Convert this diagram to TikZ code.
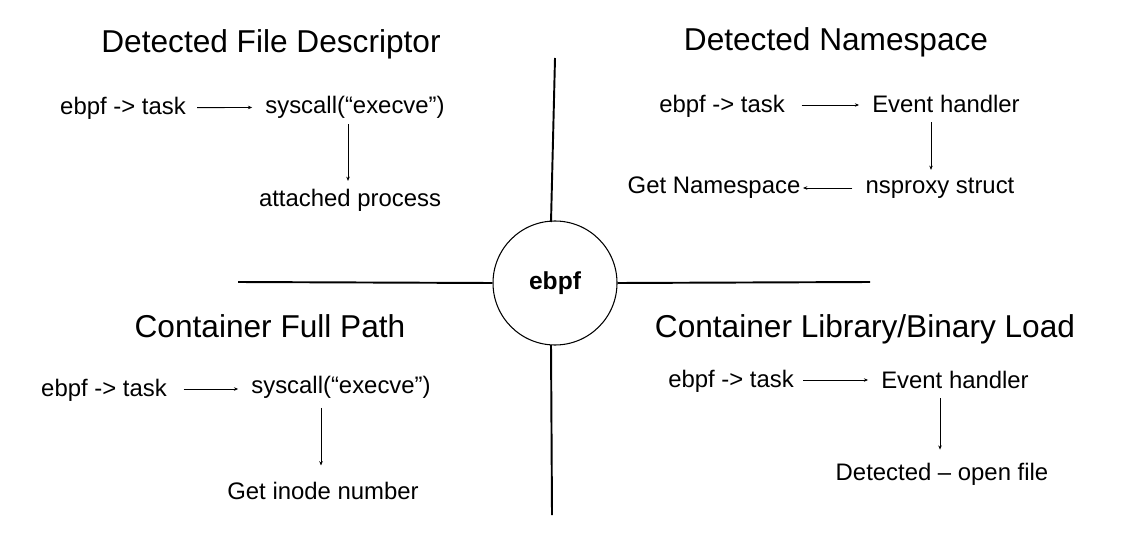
\documentclass[tikz,border=0pt]{standalone}
\usepackage{fontspec}
\setmainfont{Liberation Sans}
\usetikzlibrary{arrows.meta}

\tikzset{
  title/.style={font=\fontsize{18}{20}\selectfont},
  label/.style={font=\fontsize{13.6}{16}\selectfont},
  arr/.style={-{Stealth[length=2.4pt,width=2pt]}, line width=0.5pt, shorten <=6pt, shorten >=4pt},
  axis/.style={line width=1.1pt}
}

\begin{document}
\begin{tikzpicture}[x=0.02cm, y=-0.02cm]

        \useasboundingbox (0,0) rectangle (1124,547);

        % centre and the four axes
        \node[circle, draw, line width=0.6pt, minimum size=124*0.02cm, inner sep=0pt,
              font=\fontsize{14}{16}\selectfont\bfseries] (core) at (555,283) {ebpf};
        \draw[axis] (555,58) -- (551,222);
        \draw[axis] (551,345) -- (552,515);
        \draw[axis] (238,282) -- (core.west);
        \draw[axis] (core.east) -- (870,282);

        % top left
        \node[title] (tlTitle) at (271,44) {Detected File Descriptor};
        \node[label] (tlTask) at (123,108) {ebpf -> task};
        \node[label] (tlSys) at (355,107) {syscall(“execve”)};
        \node[label] (tlProc) at (350,200) {attached process};
        \draw[arr, shorten <=3pt] (tlTask) -- (tlSys);
        \draw[arr, shorten <=0pt, shorten >=1pt] (tlSys.south -| 348,0) -- (tlProc.north -| 348,0);

        % top right
        \node[title] (trTitle) at (836,42) {Detected Namespace};
        \node[label] (trTask) at (722,106) {ebpf -> task};
        \node[label] (trEvent) at (946,104) {Event handler};
        \node[label] (trProxy) at (940,188) {nsproxy struct};
        \node[label] (trNs) at (714,188) {Get Namespace};
        \draw[arr] (trTask.east |- 0,105) -- (trEvent.west |- 0,105);
        \draw[arr, shorten <=2pt, shorten >=1pt] (trEvent.south -| 931,0) -- (trProxy.north -| 931,0);
        \draw[arr, shorten <=4pt, shorten >=-2pt] (trProxy) -- (trNs);

        % bottom left
        \node[title] (blTitle) at (270,326) {Container Full Path};
        \node[label] (blTask) at (104,390) {ebpf -> task};
        \node[label] (blSys) at (341,387) {syscall(“execve”)};
        \node[label] (blInode) at (323,491) {Get inode number};
        \draw[arr] (blTask.east |- 0,389) -- (blSys.west |- 0,389);
        \draw[arr, shorten <=2pt, shorten >=6pt] (blSys.south -| 321,0) -- (blInode.north -| 321,0);

        % bottom right
        \node[title] (brTitle) at (865,329) {Container Library/Binary Load};
        \node[label] (brTask) at (731,381) {ebpf -> task};
        \node[label] (brEvent) at (955,380) {Event handler};
        \node[label] (brOpen) at (942,474) {Detected – open file};
        \draw[arr, shorten <=2pt] (brTask.east |- 0,380) -- (brEvent.west |- 0,380);
        \draw[arr, shorten <=2pt, shorten >=4pt] (brEvent.south -| 940,0) -- (brOpen.north -| 940,0);

\end{tikzpicture}
\end{document}
